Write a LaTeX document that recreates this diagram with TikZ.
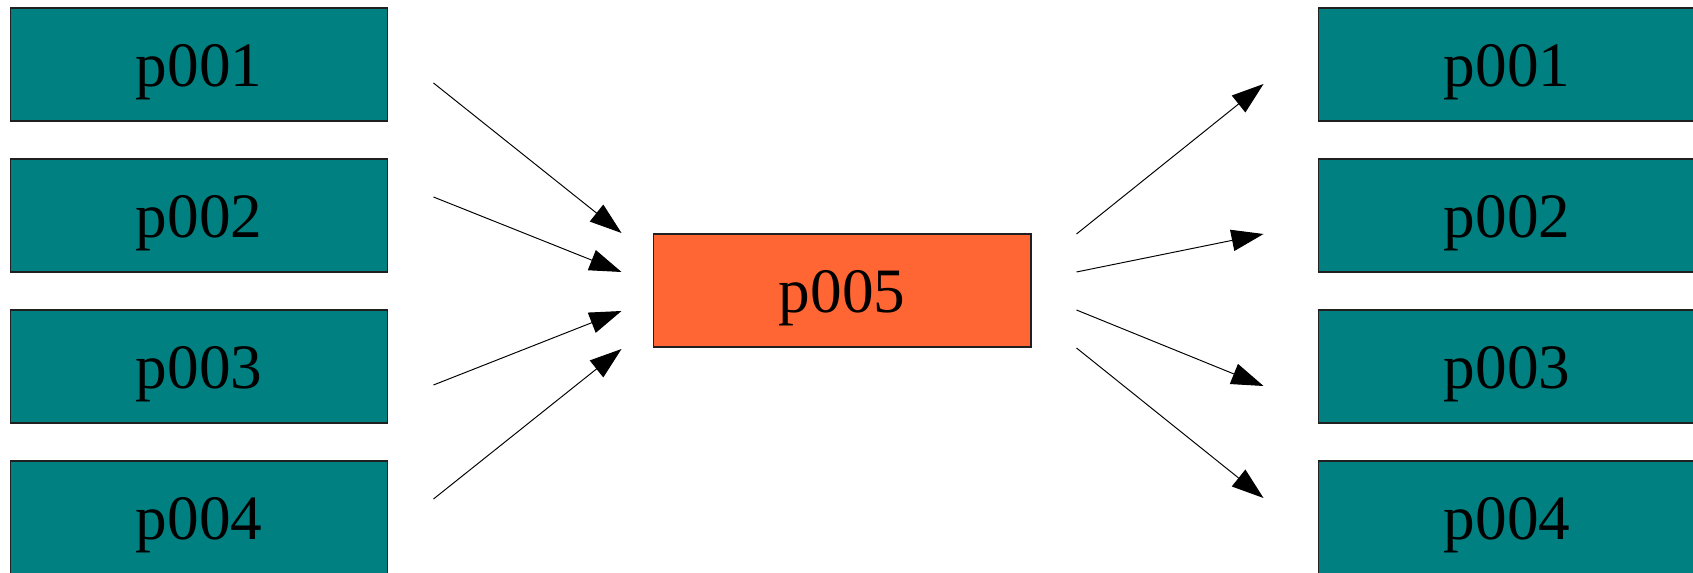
\documentclass[tikz,border=0pt]{standalone}
\usepackage{fontspec}
\setmainfont{Liberation Serif}
\usetikzlibrary{arrows.meta,calc}
\definecolor{tealbox}{HTML}{008080}
\definecolor{orangebox}{HTML}{FF6633}
\definecolor{edgegray}{HTML}{202020}
\tikzset{
  pbox/.style={draw=edgegray, line width=0.6pt, minimum width=7.56cm, minimum height=2.26cm,
    inner sep=0pt, text height=0.88cm, text depth=0pt, font=\fontsize{36}{40}\selectfont},
  tbox/.style={pbox, fill=tealbox},
  obox/.style={pbox, fill=orangebox},
  conn/.style={line width=0.55pt, -{Triangle[length=0.64cm,width=0.43cm]}}
}
\begin{document}
\begin{tikzpicture}[x=0.02cm,y=-0.02cm]
\clip (0,0) rectangle (1693,573);
\useasboundingbox (0,0) rectangle (1693,573);
\node[tbox] (L1) at (199,64.5) {p001};
\node[tbox] (L2) at (199,215.5) {p002};
\node[tbox] (L3) at (199,366.5) {p003};
\node[tbox] (L4) at (199,517.5) {p004};
\node[obox] (C) at (842,290.5) {p005};
\node[tbox] (R1) at (1507,64.5) {p001};
\node[tbox] (R2) at (1507,215.5) {p002};
\node[tbox] (R3) at (1507,366.5) {p003};
\node[tbox] (R4) at (1507,517.5) {p004};
% left connector ends
\coordinate (a1s) at ($(L1.east)+(45,18.5)$);
\coordinate (a2s) at ($(L2.east)+(45,-18.5)$);
\coordinate (a3s) at ($(L3.east)+(45,18.5)$);
\coordinate (a4s) at ($(L4.east)+(45,-18.5)$);
\coordinate (a1t) at ($(C.west)+(-31,-57.5)$);
\coordinate (a2t) at ($(C.west)+(-31,-18.5)$);
\coordinate (a3t) at ($(C.west)+(-31,20.5)$);
\coordinate (a4t) at ($(C.west)+(-31,58.5)$);
% right connector ends
\coordinate (b1s) at ($(C.east)+(45,-56.5)$);
\coordinate (b2s) at ($(C.east)+(45,-18.5)$);
\coordinate (b3s) at ($(C.east)+(45,19.5)$);
\coordinate (b4s) at ($(C.east)+(45,57.5)$);
\coordinate (b1t) at ($(R1.west)+(-54,19.5)$);
\coordinate (b2t) at ($(R2.west)+(-54,18.5)$);
\coordinate (b3t) at ($(R3.west)+(-54,19.5)$);
\coordinate (b4t) at ($(R4.west)+(-54,-19.5)$);
\draw[conn] (a1s) -- (a1t);
\draw[conn] (a2s) -- (a2t);
\draw[conn] (a3s) -- (a3t);
\draw[conn] (a4s) -- (a4t);
\draw[conn] (b1s) -- (b1t);
\draw[conn] (b2s) -- (b2t);
\draw[conn] (b3s) -- (b3t);
\draw[conn] (b4s) -- (b4t);
\end{tikzpicture}
\end{document}
